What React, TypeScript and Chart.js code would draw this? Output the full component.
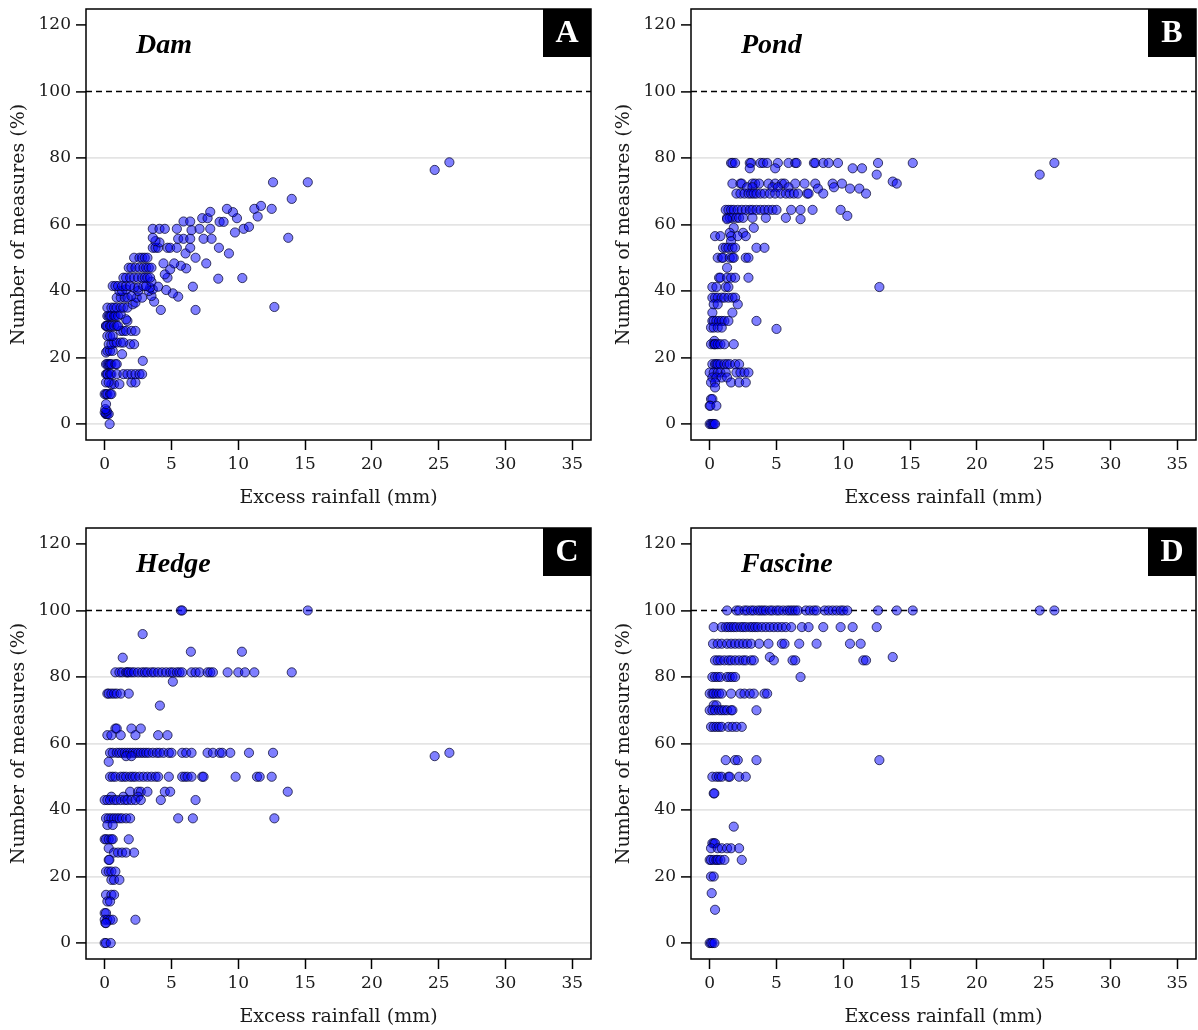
import React, { useEffect, useRef } from 'react';
import { Chart, registerables } from 'chart.js';

Chart.register(...registerables);

// ---------- axis settings ----------
const xTicks = [0, 5, 10, 15, 20, 25, 30, 35];
const yTicks = [0, 20, 40, 60, 80, 100, 120];
const gridLevels = [0, 20, 40, 60, 80];
const X_MIN = -1.4;
const X_MAX = 36.4;
const Y_MIN = -4.8;
const Y_MAX = 124.8;
const fullLevel = 100;

const xTitle = 'Excess rainfall (mm)';
const yTitle = 'Number of measures (%)';

// ---------- data: rows of [y value, x values] ----------
const damRows: [number, number[]][] = [
  [0, [0.37]],
  [3, [0.1, 0.1, 0.2, 0.3]], [3.5, [0.0]], [4, [0.15]], [4.5, [0.05]], [6, [0.1]],
  [9, [0.0, 0.1, 0.2, 0.4, 0.5]],
  [12, [0.5, 0.7, 1.1]], [12.5, [0.1, 0.3, 2.0, 2.3]],
  [15, [0.1, 0.2, 0.2, 0.4, 0.5, 0.9, 1.4, 1.7, 2.0, 2.3, 2.6, 2.8]],
  [18, [0.1, 0.2, 0.3, 0.4, 0.5, 0.8, 0.9]], [19, [2.85]],
  [21, [1.3]], [21.5, [0.1]], [22, [0.2, 0.4, 0.6]],
  [24, [0.3, 0.5, 1.9, 2.2]], [24.5, [0.7, 0.9, 1.2, 1.4]],
  [26.5, [0.2, 0.4, 0.6]],
  [28, [1.2, 1.4, 1.6, 2.0, 2.3]],
  [29.5, [0.1, 0.1, 0.2, 0.4, 0.5, 0.7, 0.9, 1.0]],
  [31, [1.7]], [31.5, [1.6]],
  [32.5, [0.2, 0.3, 0.4, 0.5, 0.7, 0.8, 1.0]], [33, [1.2]],
  [34.3, [4.2, 6.8]], [35, [0.2, 0.5, 0.7, 0.9, 1.2, 1.4, 1.7]], [35.2, [12.7]],
  [36, [2.1]], [36.5, [2.3]], [36.8, [3.7]],
  [38, [0.9, 1.2, 1.5, 1.7, 2.4, 2.8]], [38.3, [5.5]], [38.5, [2.0, 3.5]],
  [39.3, [5.1]], [40, [1.1, 1.3, 2.5, 3.3]], [40.3, [4.6]], [40.5, [1.6, 3.6]],
  [41, [2.2, 2.5, 3.4]], [41.3, [4.0, 6.6]], [41.5, [0.6, 0.8, 1.0, 1.3, 1.6, 1.9, 2.9, 3.1]],
  [42.8, [3.5]], [43.7, [8.5]], [43.9, [10.3]],
  [44, [1.4, 1.6, 1.9, 2.2, 2.5, 2.8, 3.0, 3.2, 3.4, 4.7]], [45, [4.5]],
  [46.5, [4.9]], [46.8, [6.1]], [47, [1.8, 2.0, 2.3, 2.6, 2.9, 3.1, 3.3, 3.5]], [47.6, [5.7]],
  [48.3, [4.4, 5.2, 7.6]],
  [50, [2.2, 2.6, 2.8, 3.0, 3.2, 6.8]],
  [51.3, [6.05, 9.3]],
  [53, [3.6, 3.8, 4.0, 4.7, 4.9, 5.4, 6.4, 8.55]],
  [54.6, [4.1]], [55, [3.8]], [55.7, [5.5, 5.9, 6.4, 7.4, 8.0]], [56, [3.6, 13.74]],
  [57.6, [9.75]], [58.3, [6.5]], [58.7, [3.6, 4.1, 4.5, 5.4, 7.1, 7.9, 10.4]], [59.3, [10.8]],
  [60.8, [8.6, 8.9]], [60.9, [5.9, 6.4]], [61.9, [7.3, 7.7, 9.9]], [62.4, [11.45]],
  [63.7, [9.6]], [63.8, [7.9]], [64.7, [9.15, 11.2, 12.5]], [65.6, [11.7]],
  [67.7, [14.0]], [72.7, [12.6, 15.2]], [76.4, [24.7]], [78.7, [25.8]],
];

const pondRows: [number, number[]][] = [
  [78.5, [1.6, 1.7, 1.9, 3.0, 3.1, 3.8, 4.0, 4.3, 5.1, 5.9, 6.4, 6.5, 7.8, 7.9, 8.5, 8.9, 9.6, 12.6, 15.2, 25.8]],
  [76.9, [3.0, 4.9, 10.7, 11.4]],
  [75, [12.5, 24.7]],
  [72.9, [13.7]],
  [72.3, [1.7, 2.3, 2.4, 3.2, 3.4, 3.7, 4.4, 4.9, 5.4, 5.6, 6.4, 7.1, 7.9, 9.2, 9.9, 14.0]],
  [71.2, [2.8, 3.2, 4.7, 5.1, 5.9, 9.3]],
  [70.8, [8.1, 10.5, 11.2]],
  [69.3, [2.0, 2.3, 2.6, 2.9, 3.1, 3.3, 3.5, 3.8, 4.1, 4.5, 4.9, 5.3, 5.7, 6.0, 6.3, 6.6, 7.3, 7.4, 8.5, 11.7]],
  [64.4, [1.2, 1.4, 1.6, 1.8, 2.1, 2.4, 2.7, 3.0, 3.2, 3.5, 3.8, 4.1, 4.4, 4.7, 5.0, 6.1, 6.8, 7.7, 9.8]],
  [62.6, [10.3]],
  [62, [1.3, 1.5, 1.7, 2.0, 2.2, 2.5, 3.2, 4.2, 5.7]],
  [61.6, [6.8, 1.3]],
  [59, [1.8, 3.3]],
  [57.5, [1.5, 2.5]],
  [56.5, [0.4, 0.8, 1.6, 2.1, 2.7]],
  [55, [1.6]],
  [53, [1.0, 1.2, 1.4, 1.7, 1.9, 3.5, 4.1]],
  [50, [0.6, 0.9, 1.0, 1.5, 1.7, 1.8, 2.7, 2.9]],
  [47, [1.3]],
  [44, [0.7, 0.8, 1.3, 1.6, 1.9, 2.9]],
  [41.2, [0.2, 0.5, 1.2, 1.4, 12.7]],
  [38, [0.2, 0.4, 0.6, 0.9, 1.1, 1.4, 1.7, 1.9]],
  [36, [0.3, 0.6, 2.1]],
  [33.5, [0.2, 1.7]],
  [31, [0.2, 0.3, 0.5, 0.7, 0.9, 1.1, 1.4, 3.5]],
  [29, [0.1, 0.3, 0.6, 0.9]],
  [28.6, [5.0]],
  [25, [0.35]],
  [24, [0.1, 0.3, 0.4, 0.4, 0.6, 0.8, 1.1, 1.8]],
  [18, [0.2, 0.4, 0.5, 0.6, 0.8, 1.1, 1.3, 1.5, 1.9, 2.2]],
  [15.5, [0.0, 0.3, 0.6, 0.8, 1.2, 2.0, 2.3, 2.6, 2.9]],
  [14, [0.2, 0.5, 0.9, 1.3]],
  [12.5, [0.1, 0.4, 1.6, 2.2, 2.7]],
  [11, [0.4]],
  [7.5, [0.1, 0.2]],
  [5.5, [0.0, 0.05, 0.5]],
  [0, [0.0, 0.1, 0.2, 0.3, 0.4]],
];

const hedgeRows: [number, number[]][] = [
  [100, [5.7, 5.8, 15.2]],
  [92.9, [2.84]], [87.6, [6.45, 10.27]], [85.8, [1.35]],
  [81.4, [0.8, 1.1, 1.3, 1.6, 1.7, 1.8, 2.0, 2.2, 2.5, 2.8, 3.0, 3.2, 3.5, 3.7, 4.0, 4.3, 4.6, 4.9, 5.1, 5.4, 5.6, 5.8, 6.5, 6.8, 7.1, 7.7, 7.9, 8.1, 9.2, 10.0, 10.5, 11.2, 14.0]],
  [78.6, [5.1]], [75, [0.2, 0.3, 0.5, 0.7, 0.9, 1.2, 1.8]], [71.4, [4.13]],
  [64.5, [0.8, 0.9, 2.0, 2.7]], [62.5, [0.2, 0.5, 1.2, 2.3, 4.0, 4.7]],
  [57.2, [0.4, 0.6, 0.9, 1.1, 1.3, 1.5, 1.7, 1.9, 2.1, 2.3, 2.5, 2.7, 2.9, 3.1, 3.3, 3.6, 3.9, 4.1, 4.4, 4.8, 5.0, 5.8, 6.1, 6.5, 7.7, 8.1, 8.6, 8.8, 9.4, 10.8, 12.6, 25.8]],
  [56.2, [1.6, 2.0, 24.7]], [54.5, [0.3]],
  [50, [0.4, 0.6, 0.8, 1.2, 1.4, 1.6, 1.9, 2.1, 2.3, 2.6, 2.9, 3.2, 3.5, 3.8, 4.0, 4.8, 5.8, 6.0, 6.2, 6.5, 7.3, 7.4, 9.8, 11.4, 11.6, 12.5]],
  [45.5, [1.9, 2.5, 2.7, 3.2, 4.5, 4.9, 13.7]],
  [44, [0.5, 1.4, 2.5]],
  [43, [0.0, 0.2, 0.4, 0.7, 0.9, 1.2, 1.5, 1.7, 2.0, 2.3, 2.7, 4.2, 6.8]],
  [37.5, [0.1, 0.3, 0.5, 0.7, 0.9, 1.1, 1.3, 1.6, 1.9, 5.5, 6.6, 12.7]],
  [35.5, [0.2, 0.6]],
  [31.2, [0.0, 0.1, 0.3, 0.5, 0.6, 1.8]],
  [28.5, [0.3]], [27.2, [0.7, 1.0, 1.3, 1.6, 2.2]], [25, [0.3, 0.35]],
  [21.5, [0.1, 0.3, 0.5, 0.8]], [19, [0.5, 0.7, 1.1]],
  [14.5, [0.1, 0.5, 0.7]], [12.5, [0.2, 0.4]], [9, [0.0, 0.1]],
  [7, [0.0, 0.2, 0.4, 0.6, 2.3]], [6, [0.05, 0.1]], [0, [0.0, 0.1, 0.45]],
];

const fascineRows: [number, number[]][] = [
  [100, [1.3, 2.0, 2.2, 2.6, 2.8, 3.1, 3.3, 3.6, 3.8, 4.0, 4.2, 4.5, 4.7, 5.0, 5.2, 5.5, 5.8, 6.0, 6.2, 6.4, 6.6, 7.2, 7.5, 7.8, 8.0, 8.6, 8.9, 9.2, 9.5, 9.8, 10.0, 10.3, 12.6, 14.0, 15.2, 24.7, 25.8]],
  [95, [0.3, 0.9, 1.2, 1.4, 1.6, 1.8, 2.0, 2.3, 2.5, 2.7, 3.0, 3.2, 3.4, 3.6, 3.9, 4.2, 4.5, 4.8, 5.1, 5.4, 5.7, 6.1, 6.9, 7.4, 8.5, 9.8, 10.7, 12.5]],
  [90, [0.25, 0.6, 0.9, 1.3, 1.6, 1.9, 2.2, 2.5, 2.8, 3.1, 3.7, 4.4, 5.4, 5.6, 6.7, 8.0, 10.5, 11.3]],
  [86, [4.5, 13.7]],
  [85, [0.4, 0.6, 0.8, 1.1, 1.4, 1.6, 1.9, 2.2, 2.5, 2.7, 3.1, 3.3, 4.8, 6.2, 6.4, 11.5, 11.7]],
  [80, [0.2, 0.4, 0.6, 0.8, 1.3, 1.5, 1.7, 1.9, 6.8]],
  [75, [0.0, 0.2, 0.3, 0.5, 0.7, 0.9, 1.6, 2.3, 2.6, 3.0, 3.3, 4.1, 4.3]],
  [71.5, [0.3, 0.5]],
  [70, [0.0, 0.2, 0.4, 0.7, 0.9, 1.1, 1.3, 1.6, 1.7, 3.5]],
  [65, [0.1, 0.3, 0.5, 0.7, 0.9, 1.4, 1.7, 2.0, 2.4]],
  [55, [1.2, 1.9, 2.1, 3.5, 12.7]],
  [50, [0.2, 0.5, 0.7, 0.9, 1.4, 1.5, 2.2, 2.7]],
  [45, [0.3, 0.35]],
  [35, [1.8]],
  [30, [0.2, 0.3, 0.4]],
  [28.5, [0.1, 0.6, 0.9, 1.3, 1.6, 2.2]],
  [25, [0.0, 0.1, 0.3, 0.5, 0.6, 0.8, 1.1, 2.4]],
  [20, [0.1, 0.3]],
  [15, [0.15]],
  [10, [0.4]],
  [0, [0.0, 0.1, 0.2, 0.35]],
];

const panels = [
  { title: 'Dam', letter: 'A', rows: damRows, left: 0, top: 0 },
  { title: 'Pond', letter: 'B', rows: pondRows, left: 605, top: 0 },
  { title: 'Hedge', letter: 'C', rows: hedgeRows, left: 0, top: 519 },
  { title: 'Fascine', letter: 'D', rows: fascineRows, left: 605, top: 519 },
];

const SERIF = "'DejaVu Serif', serif";

const decorPlugin = {
  id: 'panelDecor',
  afterDatasetsDraw(chart: any, _args: any, opts: any) {
    const { ctx, chartArea: a } = chart;
    ctx.save();
    // frame
    ctx.strokeStyle = '#000';
    ctx.lineWidth = 1.5;
    ctx.strokeRect(a.left, a.top, a.right - a.left, a.bottom - a.top);
    // letter box
    ctx.fillStyle = '#000';
    ctx.fillRect(a.right - 48, a.top, 48, 48);
    ctx.fillStyle = '#fff';
    ctx.font = "bold 32px 'Liberation Serif', serif";
    ctx.textAlign = 'center';
    ctx.textBaseline = 'middle';
    ctx.fillText(opts.letter, a.right - 24, a.top + 25);
    // panel title
    ctx.fillStyle = '#000';
    ctx.font = "italic bold 28px 'Liberation Serif', serif";
    ctx.textAlign = 'left';
    ctx.textBaseline = 'alphabetic';
    ctx.fillText(opts.title, a.left + 50, a.top + 44);
    ctx.restore();
  },
};

function Panel({ title, letter, rows, left, top }: any) {
  const ref = useRef<HTMLCanvasElement>(null);
  useEffect(() => {
    const points: { x: number; y: number }[] = [];
    rows.forEach(([y, xs]: [number, number[]]) => xs.forEach((x) => points.push({ x, y })));
    const chart = new Chart(ref.current as HTMLCanvasElement, {
      type: 'scatter',
      data: {
        datasets: [
          {
            type: 'line',
            data: [
              { x: X_MIN, y: fullLevel },
              { x: X_MAX, y: fullLevel },
            ],
            borderColor: '#000',
            borderWidth: 1.4,
            borderDash: [6, 4],
            pointRadius: 0,
            fill: false,
            order: 2,
          } as any,
          {
            data: points,
            pointRadius: 4.6,
            pointBackgroundColor: 'rgba(0,0,255,0.5)',
            pointBorderColor: 'rgba(0,0,40,0.8)',
            pointBorderWidth: 0.9,
            order: 1,
          },
        ],
      },
      options: {
        animation: false,
        responsive: false,
        events: [],
        layout: { padding: { left: 0, top: 9, right: 8, bottom: 0 } },
        plugins: {
          legend: { display: false },
          tooltip: { enabled: false },
          panelDecor: { title, letter },
        } as any,
        scales: {
          x: {
            type: 'linear',
            min: X_MIN,
            max: X_MAX,
            afterBuildTicks: (s: any) => {
              s.ticks = xTicks.map((v) => ({ value: v }));
            },
            afterFit: (s: any) => {
              s.height = 79;
              s.paddingLeft = 0;
              s.paddingRight = 0;
            },
            grid: {
              drawOnChartArea: false,
              drawTicks: true,
              tickLength: 10,
              tickColor: '#000',
              tickWidth: 1.5,
            },
            border: { display: false },
            ticks: {
              font: { family: SERIF, size: 17 },
              color: '#1a1a1a',
              padding: 4,
              maxRotation: 0,
              autoSkip: false,
            },
            title: {
              display: true,
              text: xTitle,
              font: { family: SERIF, size: 19 },
              color: '#1a1a1a',
              padding: { top: 0, bottom: 10 },
            },
          },
          y: {
            type: 'linear',
            min: Y_MIN,
            max: Y_MAX,
            afterBuildTicks: (s: any) => {
              s.ticks = yTicks.map((v) => ({ value: v }));
            },
            afterFit: (s: any) => {
              s.width = 86;
              s.paddingTop = 0;
              s.paddingBottom = 0;
            },
            grid: {
              color: (c: any) => (gridLevels.includes(c.tick?.value) ? '#e4e4e4' : 'rgba(0,0,0,0)'),
              lineWidth: 1.8,
              drawTicks: true,
              tickLength: 10,
              tickColor: '#000',
              tickWidth: 1.5,
            },
            border: { display: false },
            ticks: {
              font: { family: SERIF, size: 17 },
              color: '#1a1a1a',
              padding: 5,
              autoSkip: false,
            },
            title: {
              display: true,
              text: yTitle,
              font: { family: SERIF, size: 19 },
              color: '#1a1a1a',
              padding: { top: 8, bottom: 0 },
            },
          },
        },
      },
      plugins: [decorPlugin as any],
    });
    return () => chart.destroy();
  }, []);
  return (
    <canvas
      ref={ref}
      width={599}
      height={519}
      style={{ position: 'absolute', left, top, width: 599, height: 519 }}
    />
  );
}

export default function App() {
  return (
    <div
      style={{
        position: 'fixed',
        left: 0,
        top: 0,
        width: 1198,
        height: 1030,
        overflow: 'hidden',
        background: '#fff',
      }}
    >
      {panels.map((p) => (
        <Panel key={p.letter} {...p} />
      ))}
    </div>
  );
}
